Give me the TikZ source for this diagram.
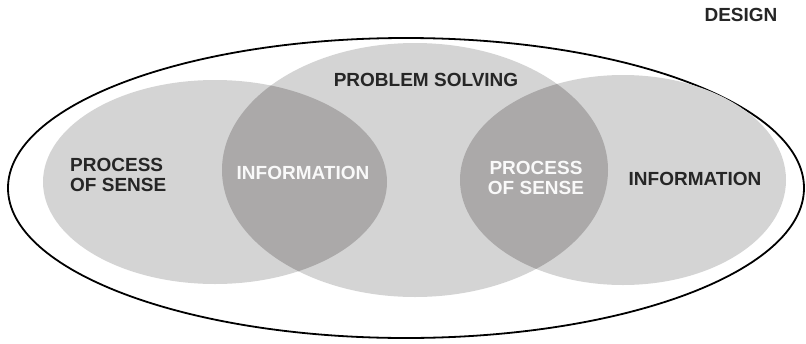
\documentclass[tikz,border=0pt]{standalone}
\usepackage{fontspec}
\setmainfont{Liberation Sans}
\definecolor{blobgray}{HTML}{D4D4D4}
\definecolor{lensgray}{HTML}{ABA9A9}
\usepackage{tikz}
\usetikzlibrary{positioning}

\begin{document}
\begin{tikzpicture}[x=1pt, y=-1pt,
  blob/.style={fill=blobgray, draw=none},
  lens/.style={fill=lensgray, draw=none},
  dark/.style={font=\fontsize{19}{20}\selectfont\bfseries, text=black!85, align=left, inner sep=0pt},
  light/.style={font=\fontsize{19}{20}\selectfont\bfseries, text=white!95!gray, align=center, inner sep=0pt},
]
\useasboundingbox (0,0) rectangle (806,343);

% outer design ellipse
\draw[line width=1.8pt] (406,188) ellipse [x radius=398, y radius=150];

% three fields
\path[blob] (215,182) ellipse [x radius=172, y radius=102];
\path[blob] (415,170) ellipse [x radius=193, y radius=127];
\path[blob] (623,180) ellipse [x radius=163, y radius=105];

% overlaps
\begin{scope}
  \clip (215,182) ellipse [x radius=172, y radius=102];
  \path[lens] (415,170) ellipse [x radius=193, y radius=127];
\end{scope}
\begin{scope}
  \clip (623,180) ellipse [x radius=163, y radius=105];
  \path[lens] (415,170) ellipse [x radius=193, y radius=127];
\end{scope}

\node[dark] (design) at (741,15) {DESIGN};
\node[dark] (solving) at (426,80) {PROBLEM SOLVING};
\node[dark, anchor=west] (senseL) at (70,175) {PROCESS\\OF SENSE};
\node[light] (infoL) at (303,173) {INFORMATION};
\node[light] (senseR) at (536,178) {PROCESS\\OF SENSE};
\node[dark] (infoR) at (695,179) {INFORMATION};
\end{tikzpicture}
\end{document}
